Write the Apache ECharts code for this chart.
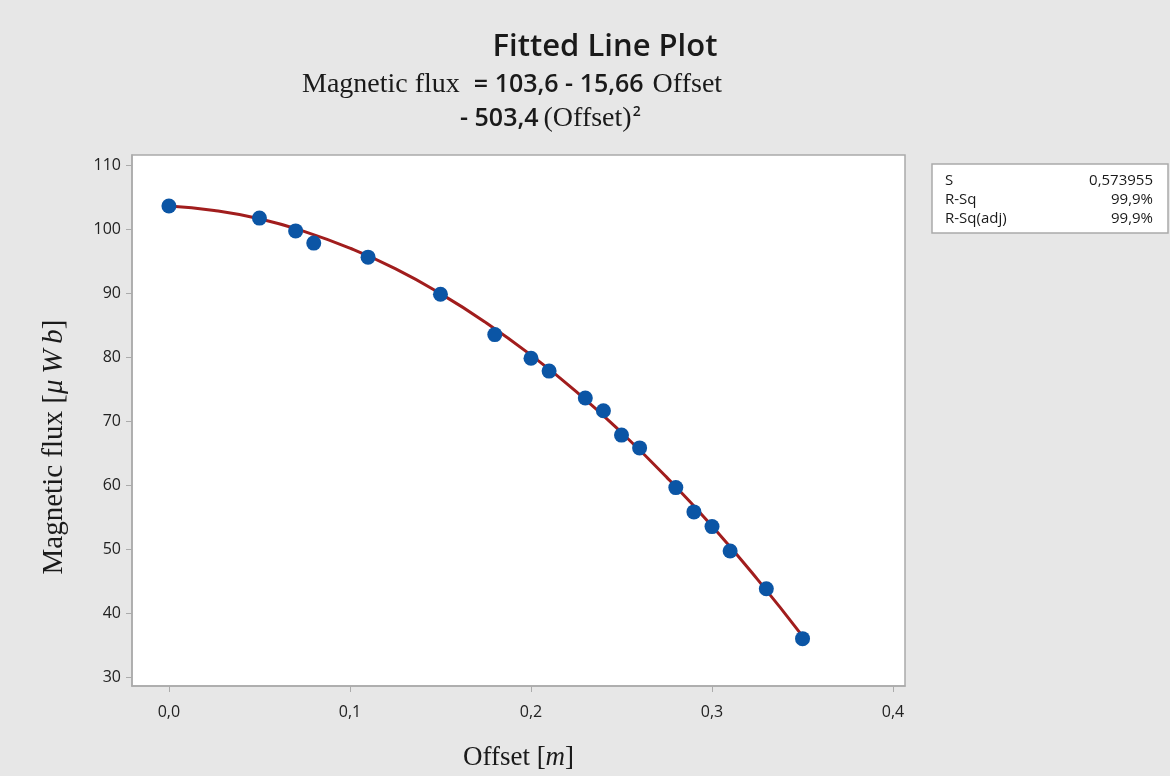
<!DOCTYPE html>
<html>
<head>
<meta charset="utf-8">
<title>Fitted Line Plot</title>
<script src="https://cdn.jsdelivr.net/npm/echarts@6/dist/echarts.min.js"></script>
<style>
  html, body { margin: 0; padding: 0; background: #e7e7e7; }
  #main { width: 1170px; height: 776px; }
</style>
</head>
<body>
<div id="main"></div>
<script>
// measured points
const offset = [0, 0.05, 0.07, 0.08, 0.11, 0.15, 0.18, 0.20, 0.21, 0.23, 0.24, 0.25, 0.26, 0.28, 0.29, 0.30, 0.31, 0.33, 0.35];
const flux = [103.6, 101.7, 99.7, 97.8, 95.6, 89.8, 83.5, 79.8, 77.8, 73.6, 71.6, 67.8, 65.8, 59.6, 55.8, 53.5, 49.7, 43.8, 36.0];

// fitted curve
const fitX = [0, 0.025, 0.05, 0.075, 0.1, 0.125, 0.15, 0.175, 0.2, 0.225, 0.25, 0.275, 0.3, 0.325, 0.35];
const fitY = [103.6, 102.9, 101.6, 99.6, 97.0, 93.8, 89.9, 85.4, 80.3, 74.6, 68.2, 61.2, 53.6, 45.3, 36.4];

const xTicks = [0, 0.1, 0.2, 0.3, 0.4];
const yTicks = [30, 40, 50, 60, 70, 80, 90, 100, 110];

const statNames = ['S', 'R-Sq', 'R-Sq(adj)'];
const statValues = ['0,573955', '99,9%', '99,9%'];

const chart = echarts.init(document.getElementById('main'));

const serif = '"Liberation Serif", "DejaVu Serif", serif';
const sans = '"Open Sans", "Noto Sans", sans-serif';
const ink = '#1a1a1a';
const frame = '#ababab';

// stats box on the right
const graphics = [{
  type: 'rect',
  shape: { x: 932, y: 164, width: 236, height: 69 },
  style: { fill: '#fff', stroke: frame, lineWidth: 1.5 }
}];
statNames.forEach((n, i) => {
  graphics.push({
    type: 'text', x: 945, y: 181 + i * 19,
    style: { text: n, font: '15px ' + sans, fill: ink, verticalAlign: 'middle' }
  });
  graphics.push({
    type: 'text', x: 1153, y: 181 + i * 19,
    style: { text: statValues[i], font: '15px ' + sans, fill: ink, align: 'right', verticalAlign: 'middle' }
  });
});

// y axis title, placed by hand so it sits where the original one does
graphics.push({
  type: 'text', x: 54, y: 447, rotation: Math.PI / 2,
  style: {
    text: '{a|Magnetic flux [}{i|μ\u2009W\u2009b}{a|]}',
    align: 'center', verticalAlign: 'middle',
    rich: {
      a: { fontFamily: serif, fontSize: 29, fill: ink },
      i: { fontFamily: serif, fontSize: 29, fontStyle: 'italic', fill: ink }
    }
  }
});

const option = {
  backgroundColor: '#e7e7e7',
  animation: false,
  title: [
    {
      text: 'Fitted Line Plot',
      left: 600, top: 27, textAlign: 'center',
      textStyle: { fontFamily: sans, fontSize: 31, fontWeight: 600, color: ink }
    },
    {
      text: '{s|Magnetic flux}{n|= 103,6 - 15,66}{s|Offset}',
      left: 297, top: 66,
      textStyle: {
        rich: {
          s: { fontFamily: serif, fontSize: 28, fontWeight: 'normal', color: ink },
          n: { fontFamily: sans, fontSize: 25, fontWeight: 600, color: ink, padding: [0, 9, 0, 14] }
        }
      }
    },
    {
      text: '{n|- 503,4} {s|(Offset)}{p|2}',
      left: 455, top: 100,
      textStyle: {
        rich: {
          s: { fontFamily: serif, fontSize: 28, fontWeight: 'normal', color: ink },
          n: { fontFamily: sans, fontSize: 25, fontWeight: 600, color: ink },
          p: { fontFamily: sans, fontSize: 14, fontWeight: 600, color: ink, verticalAlign: 'top', padding: [0, 0, 12, 1] }
        }
      }
    }
  ],
  grid: {
    left: 132, right: 265, top: 155, bottom: 88,
    show: true, backgroundColor: '#fff', borderColor: frame, borderWidth: 1.5
  },
  xAxis: {
    type: 'value',
    min: -0.0204, max: 0.4066,
    name: '{a|Offset [}{i|m}{a|]}',
    nameLocation: 'middle', nameGap: 58,
    nameTextStyle: {
      rich: {
        a: { fontFamily: serif, fontSize: 27, color: ink },
        i: { fontFamily: serif, fontSize: 27, fontStyle: 'italic', color: ink }
      }
    },
    axisLine: { onZero: false, lineStyle: { color: frame, width: 1.5 } },
    axisTick: { customValues: xTicks, length: 6, lineStyle: { color: frame } },
    axisLabel: {
      customValues: xTicks, margin: 18,
      fontFamily: sans, fontSize: 16, color: '#222',
      formatter: v => v.toFixed(1).replace('.', ',')
    },
    splitLine: { show: false }
  },
  yAxis: {
    type: 'value',
    min: 28.6, max: 111.56,
    axisLine: { show: true, onZero: false, lineStyle: { color: frame, width: 1.5 } },
    axisTick: { show: true, customValues: yTicks, length: 6, lineStyle: { color: frame } },
    axisLabel: {
      customValues: yTicks, margin: 11,
      fontFamily: sans, fontSize: 16, color: '#222'
    },
    splitLine: { show: false }
  },
  graphic: graphics,
  series: [
    {
      name: 'fit',
      type: 'line',
      data: fitX.map((x, i) => [x, fitY[i]]),
      smooth: true,
      showSymbol: false,
      lineStyle: { color: '#a11d1d', width: 3 },
      z: 2
    },
    {
      name: 'data',
      type: 'scatter',
      data: offset.map((x, i) => [x, flux[i]]),
      symbolSize: 15,
      itemStyle: { color: '#0b55a5', opacity: 1 },
      z: 3
    }
  ]
};

chart.setOption(option);
</script>
</body>
</html>
